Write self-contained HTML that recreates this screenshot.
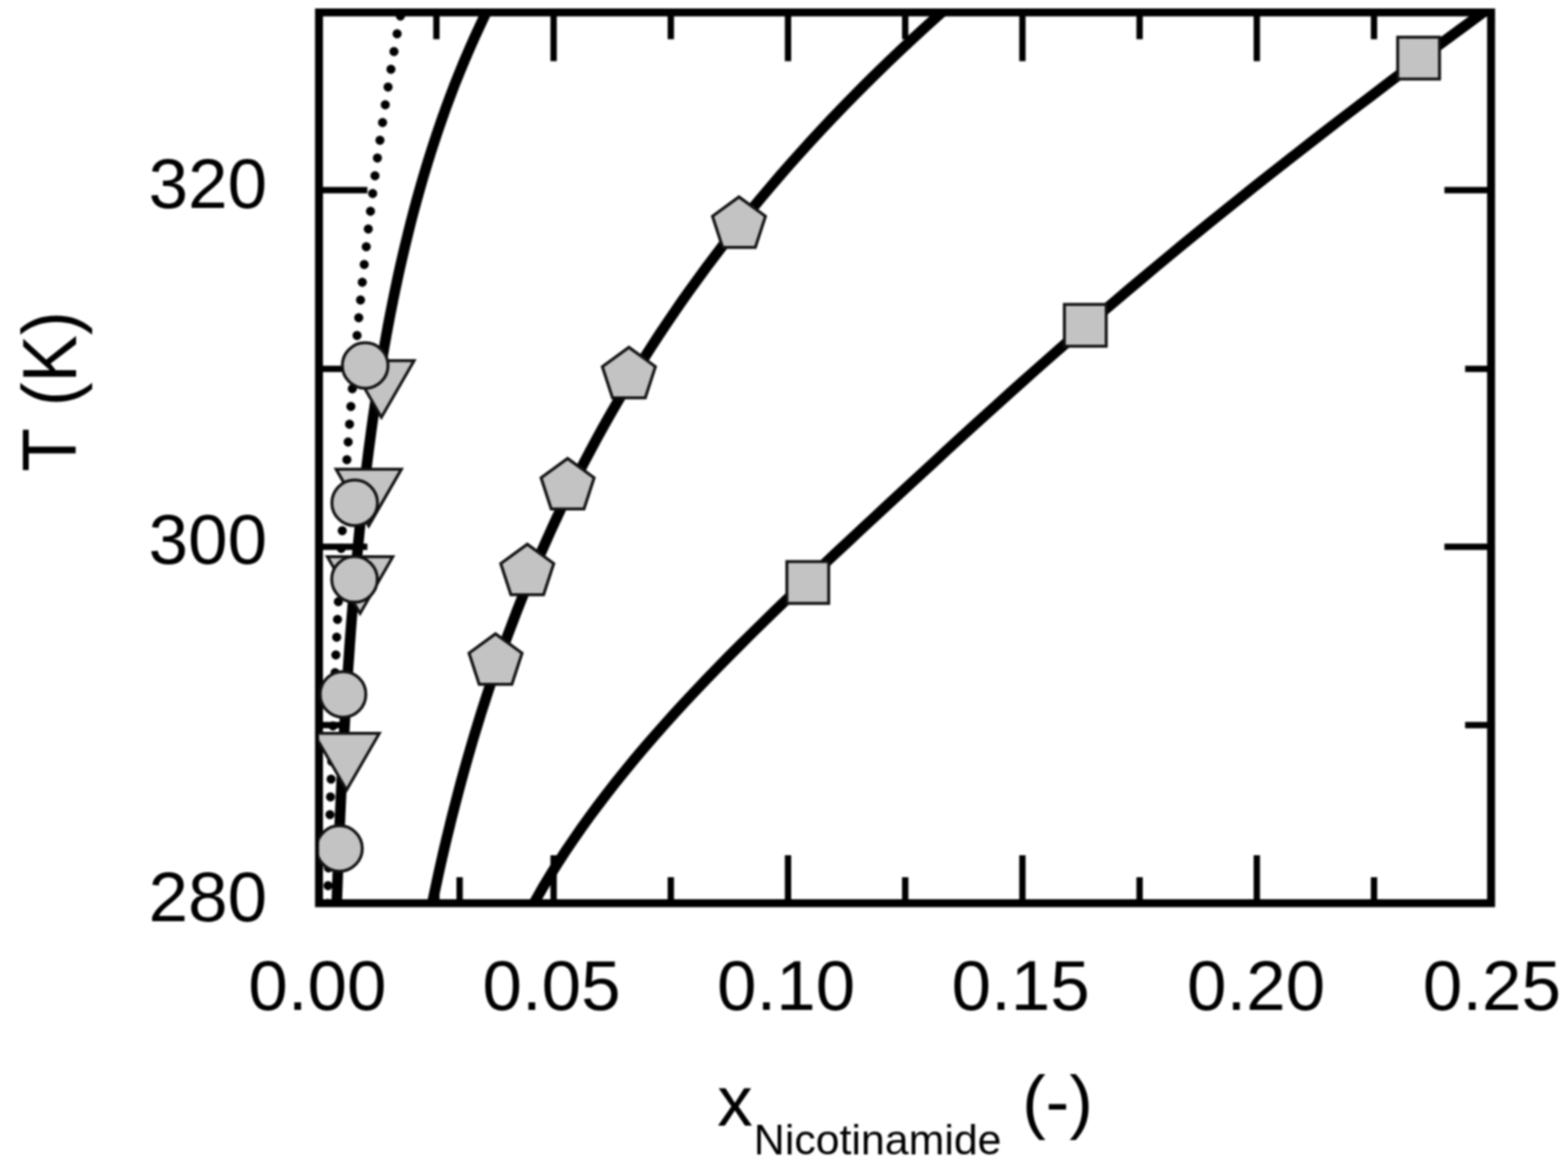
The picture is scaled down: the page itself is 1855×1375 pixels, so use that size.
<!DOCTYPE html>
<html lang="en"><head><meta charset="utf-8"><title>Solubility of Nicotinamide</title>
<style>
html,body{margin:0;padding:0;background:#fff;}
body{width:1855px;height:1375px;overflow:hidden;}
svg{display:block;filter:blur(0.8px);}
text{font-family:"Liberation Sans",Arial,Helvetica,sans-serif;fill:#000;}
</style></head><body>
<svg width="1855" height="1375" viewBox="0 0 1855 1375">
<rect x="0" y="0" width="1855" height="1375" fill="#fff"/>
<defs><clipPath id="pc"><rect x="377.4" y="14.7" width="1386.6" height="1054.05"/></clipPath></defs>

<g stroke="#000" stroke-width="7.5" fill="none">
<line x1="516.30" y1="14.7" x2="516.30" y2="46.4"/>
<line x1="543.75" y1="1068.75" x2="543.75" y2="1038.0"/>
<line x1="516.30" y1="1068.75" x2="516.30" y2="1038.0"/>
<line x1="654.95" y1="14.7" x2="654.95" y2="72.4"/>
<line x1="654.95" y1="1068.75" x2="654.95" y2="1012.0"/>
<line x1="793.60" y1="14.7" x2="793.60" y2="46.4"/>
<line x1="793.60" y1="1068.75" x2="793.60" y2="1038.0"/>
<line x1="932.25" y1="14.7" x2="932.25" y2="72.4"/>
<line x1="932.25" y1="1068.75" x2="932.25" y2="1012.0"/>
<line x1="1070.90" y1="14.7" x2="1070.90" y2="46.4"/>
<line x1="1070.90" y1="1068.75" x2="1070.90" y2="1038.0"/>
<line x1="1209.55" y1="14.7" x2="1209.55" y2="72.4"/>
<line x1="1209.55" y1="1068.75" x2="1209.55" y2="1012.0"/>
<line x1="1348.20" y1="14.7" x2="1348.20" y2="46.4"/>
<line x1="1348.20" y1="1068.75" x2="1348.20" y2="1038.0"/>
<line x1="1486.85" y1="14.7" x2="1486.85" y2="72.4"/>
<line x1="1486.85" y1="1068.75" x2="1486.85" y2="1012.0"/>
<line x1="1625.50" y1="14.7" x2="1625.50" y2="46.4"/>
<line x1="1625.50" y1="1068.75" x2="1625.50" y2="1038.0"/>
<line x1="377.4" y1="858" x2="410.1" y2="858"/>
<line x1="1764.0" y1="858" x2="1733.3" y2="858"/>
<line x1="377.4" y1="647" x2="434.6" y2="647"/>
<line x1="1764.0" y1="647" x2="1708.8" y2="647"/>
<line x1="377.4" y1="436.5" x2="410.1" y2="436.5"/>
<line x1="1764.0" y1="436.5" x2="1733.3" y2="436.5"/>
<line x1="377.4" y1="225" x2="434.6" y2="225"/>
<line x1="1764.0" y1="225" x2="1708.8" y2="225"/>
</g>
<g clip-path="url(#pc)" fill="none" stroke="#000" stroke-width="12.5" stroke-linejoin="round">
<path d="M1768.3,5.0 L1749.6,18.5 L1731.0,32.1 L1712.6,45.6 L1694.3,59.2 L1676.2,72.7 L1658.2,86.3 L1640.3,99.8 L1622.4,113.4 L1604.7,126.9 L1587.0,140.4 L1569.4,154.0 L1552.0,167.5 L1534.6,181.1 L1517.3,194.6 L1500.1,208.2 L1483.0,221.7 L1466.0,235.3 L1449.2,248.8 L1432.4,262.3 L1415.8,275.9 L1399.2,289.4 L1382.8,303.0 L1366.5,316.5 L1350.3,330.1 L1334.2,343.6 L1318.2,357.2 L1302.3,370.7 L1286.5,384.2 L1270.8,397.8 L1255.3,411.3 L1239.8,424.9 L1224.5,438.4 L1209.2,452.0 L1194.1,465.5 L1179.1,479.1 L1164.1,492.6 L1149.2,506.1 L1134.4,519.7 L1119.7,533.2 L1105.0,546.8 L1090.3,560.3 L1075.6,573.9 L1061.0,587.4 L1046.4,600.9 L1031.8,614.5 L1017.2,628.0 L1002.7,641.6 L988.1,655.1 L973.7,668.7 L959.3,682.2 L945.0,695.8 L930.8,709.3 L916.7,722.8 L902.8,736.4 L889.0,749.9 L875.3,763.5 L861.8,777.0 L848.5,790.6 L835.4,804.1 L822.5,817.7 L809.8,831.2 L797.4,844.7 L785.2,858.3 L773.3,871.8 L761.6,885.4 L750.2,898.9 L739.1,912.5 L728.2,926.0 L717.6,939.6 L707.3,953.1 L697.3,966.6 L687.6,980.2 L678.2,993.7 L669.0,1007.3 L660.2,1020.8 L651.7,1034.4 L643.5,1047.9 L635.7,1061.5 L628.1,1075.0"/>
<path d="M1124.9,5.0 L1109.7,18.5 L1094.7,32.1 L1080.0,45.6 L1065.5,59.2 L1051.3,72.7 L1037.4,86.3 L1023.7,99.8 L1010.2,113.4 L997.0,126.9 L984.0,140.4 L971.2,154.0 L958.7,167.5 L946.4,181.1 L934.3,194.6 L922.5,208.2 L910.9,221.7 L899.5,235.3 L888.3,248.8 L877.3,262.3 L866.6,275.9 L856.0,289.4 L845.7,303.0 L835.5,316.5 L825.6,330.1 L815.8,343.6 L806.2,357.2 L796.9,370.7 L787.7,384.2 L778.7,397.8 L769.9,411.3 L761.3,424.9 L752.8,438.4 L744.5,452.0 L736.4,465.5 L728.5,479.1 L720.7,492.6 L713.1,506.1 L705.6,519.7 L698.4,533.2 L691.2,546.8 L684.2,560.3 L677.4,573.9 L670.7,587.4 L664.2,600.9 L657.8,614.5 L651.6,628.0 L645.5,641.6 L639.5,655.1 L633.6,668.7 L627.9,682.2 L622.4,695.8 L616.9,709.3 L611.6,722.8 L606.4,736.4 L601.3,749.9 L596.3,763.5 L591.5,777.0 L586.7,790.6 L582.1,804.1 L577.6,817.7 L573.2,831.2 L568.9,844.7 L564.7,858.3 L560.6,871.8 L556.6,885.4 L552.7,898.9 L548.9,912.5 L545.2,926.0 L541.6,939.6 L538.1,953.1 L534.6,966.6 L531.3,980.2 L528.0,993.7 L524.8,1007.3 L521.7,1020.8 L518.7,1034.4 L515.8,1047.9 L512.9,1061.5 L510.1,1075.0"/>
<path d="M580.1,5.0 L573.4,18.5 L567.0,32.1 L560.8,45.6 L554.8,59.2 L549.0,72.7 L543.4,86.3 L538.0,99.8 L532.8,113.4 L527.8,126.9 L523.0,140.4 L518.3,154.0 L513.8,167.5 L509.4,181.1 L505.2,194.6 L501.1,208.2 L497.2,221.7 L493.4,235.3 L489.7,248.8 L486.2,262.3 L482.8,275.9 L479.5,289.4 L476.3,303.0 L473.2,316.5 L470.2,330.1 L467.4,343.6 L464.6,357.2 L461.9,370.7 L459.3,384.2 L456.8,397.8 L454.4,411.3 L452.1,424.9 L449.9,438.4 L447.7,452.0 L445.6,465.5 L443.6,479.1 L441.6,492.6 L439.7,506.1 L437.9,519.7 L436.1,533.2 L434.4,546.8 L432.7,560.3 L431.2,573.9 L429.6,587.4 L428.1,600.9 L426.7,614.5 L425.3,628.0 L424.0,641.6 L422.7,655.1 L421.4,668.7 L420.2,682.2 L419.0,695.8 L417.9,709.3 L416.8,722.8 L415.7,736.4 L414.7,749.9 L413.7,763.5 L412.8,777.0 L411.8,790.6 L410.9,804.1 L410.1,817.7 L409.2,831.2 L408.4,844.7 L407.7,858.3 L406.9,871.8 L406.2,885.4 L405.5,898.9 L404.8,912.5 L404.1,926.0 L403.5,939.6 L402.9,953.1 L402.3,966.6 L401.7,980.2 L401.1,993.7 L400.6,1007.3 L400.1,1020.8 L399.6,1034.4 L399.1,1047.9 L398.6,1061.5 L398.2,1075.0"/>
</g>
<g clip-path="url(#pc)" fill="#000">
<circle cx="473.7" cy="19.0" r="5.4"/>
<circle cx="469.8" cy="40.0" r="5.4"/>
<circle cx="466.1" cy="61.0" r="5.4"/>
<circle cx="462.5" cy="82.0" r="5.4"/>
<circle cx="459.1" cy="103.0" r="5.4"/>
<circle cx="455.8" cy="124.0" r="5.4"/>
<circle cx="452.6" cy="145.0" r="5.4"/>
<circle cx="449.5" cy="166.0" r="5.4"/>
<circle cx="446.5" cy="187.0" r="5.4"/>
<circle cx="443.6" cy="208.0" r="5.4"/>
<circle cx="440.9" cy="229.0" r="5.4"/>
<circle cx="438.3" cy="250.0" r="5.4"/>
<circle cx="435.7" cy="271.0" r="5.4"/>
<circle cx="433.3" cy="292.0" r="5.4"/>
<circle cx="430.9" cy="313.0" r="5.4"/>
<circle cx="428.6" cy="334.0" r="5.4"/>
<circle cx="426.5" cy="355.0" r="5.4"/>
<circle cx="424.4" cy="376.0" r="5.4"/>
<circle cx="422.4" cy="397.0" r="5.4"/>
<circle cx="420.4" cy="418.0" r="5.4"/>
<circle cx="418.6" cy="439.0" r="5.4"/>
<circle cx="416.8" cy="460.0" r="5.4"/>
<circle cx="415.1" cy="481.0" r="5.4"/>
<circle cx="413.5" cy="502.0" r="5.4"/>
<circle cx="411.9" cy="523.0" r="5.4"/>
<circle cx="410.4" cy="544.0" r="5.4"/>
<circle cx="408.9" cy="565.0" r="5.4"/>
<circle cx="407.5" cy="586.0" r="5.4"/>
<circle cx="406.2" cy="607.0" r="5.4"/>
<circle cx="404.9" cy="628.0" r="5.4"/>
<circle cx="403.7" cy="649.0" r="5.4"/>
<circle cx="402.5" cy="670.0" r="5.4"/>
<circle cx="401.4" cy="691.0" r="5.4"/>
<circle cx="400.3" cy="712.0" r="5.4"/>
<circle cx="399.3" cy="733.0" r="5.4"/>
<circle cx="398.3" cy="754.0" r="5.4"/>
<circle cx="397.3" cy="775.0" r="5.4"/>
<circle cx="396.4" cy="796.0" r="5.4"/>
<circle cx="395.5" cy="817.0" r="5.4"/>
<circle cx="394.7" cy="838.0" r="5.4"/>
<circle cx="393.9" cy="859.0" r="5.4"/>
<circle cx="393.1" cy="880.0" r="5.4"/>
<circle cx="392.4" cy="901.0" r="5.4"/>
<circle cx="391.7" cy="922.0" r="5.4"/>
<circle cx="391.0" cy="943.0" r="5.4"/>
<circle cx="390.4" cy="964.0" r="5.4"/>
<circle cx="389.8" cy="985.0" r="5.4"/>
<circle cx="389.2" cy="1006.0" r="5.4"/>
<circle cx="388.6" cy="1027.0" r="5.4"/>
<circle cx="388.1" cy="1048.0" r="5.4"/>
<circle cx="387.6" cy="1069.0" r="5.4"/>
</g>
<rect x="377.4" y="14.7" width="1386.6" height="1054.05" fill="none" stroke="#000" stroke-width="9.4"/>
<g clip-path="url(#pc)" fill="#c3c3c3" stroke="#111" stroke-width="3.5" stroke-linejoin="miter">
<rect x="1653.5" y="44.0" width="49.5" height="49.5"/>
<rect x="1259.2" y="360.2" width="49.5" height="49.5"/>
<rect x="930.9" y="664.5" width="49.5" height="49.5"/>
<polygon points="874.2,233.0 905.6,255.8 893.6,292.7 854.9,292.7 842.9,255.8"/>
<polygon points="744.0,411.0 775.4,433.8 763.4,470.7 724.6,470.7 712.6,433.8"/>
<polygon points="671.5,542.5 702.9,565.3 690.9,602.2 652.1,602.2 640.1,565.3"/>
<polygon points="623.8,644.0 655.1,666.8 643.1,703.7 604.4,703.7 592.4,666.8"/>
<polygon points="586.2,750.0 617.6,772.8 605.6,809.7 566.9,809.7 554.9,772.8"/>
<polygon points="412.6,426.8 489.9,426.8 451.2,493.8"/>
<circle cx="432" cy="432.5" r="27.0"/>
<polygon points="397.6,555.2 474.9,555.2 436.2,622.2"/>
<circle cx="419.6" cy="595" r="27.0"/>
<polygon points="387.3,658.8 464.7,658.8 426.0,725.8"/>
<circle cx="419.4" cy="685.6" r="27.0"/>
<circle cx="405.8" cy="821.7" r="27.0"/>
<polygon points="371.3,867.8 448.7,867.8 410.0,934.8"/>
<circle cx="401.6" cy="1004" r="27.0"/>
</g>
<g font-size="84.0" text-anchor="end">
<text x="316" y="246.2">320</text>
<text x="316" y="667.0">300</text>
<text x="316" y="1089.5">280</text>
</g>
<g font-size="84.0" text-anchor="middle">
<text x="375.5" y="1195">0.00</text>
<text x="652.5" y="1195">0.05</text>
<text x="930" y="1195">0.10</text>
<text x="1207.5" y="1195">0.15</text>
<text x="1486" y="1195">0.20</text>
<text x="1765" y="1195">0.25</text>
</g>
<text x="848.5" y="1332.3" font-size="84.0">x<tspan font-size="50.7" dx="1.3" dy="33.4">Nicotinamide</tspan><tspan dx="1" dy="-33.4"> (-)</tspan></text>
<text transform="translate(90,463.3) rotate(-90) scale(1.005,1.08)" font-size="84.0" text-anchor="middle" word-spacing="4">T (K)</text>
</svg></body></html>
